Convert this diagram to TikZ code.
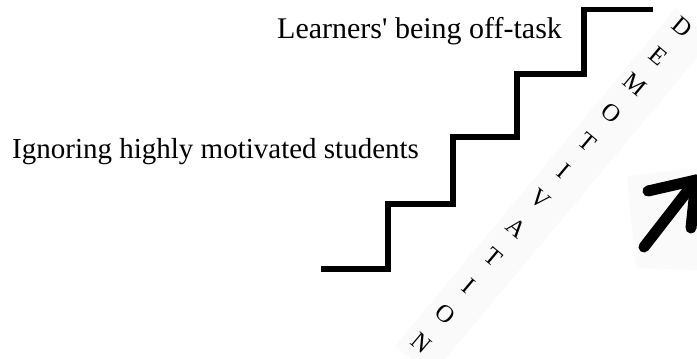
\documentclass[tikz,border=0pt]{standalone}
\usepackage{fontspec}
\setmainfont{Liberation Serif}
\tikzset{
  stair/.style={line width=5.4pt, line join=miter, line cap=butt},
  label/.style={inner sep=0pt, anchor=base west},
  letter/.style={inner sep=0pt, font=\fontsize{24.5}{24.5}\selectfont, rotate=-40},
  bigarrow/.style={line width=11pt, line cap=round, line join=round},
  faint/.style={fill=black!2, draw=none}
}
\begin{document}
\begin{tikzpicture}[x=1pt,y=-1pt]
\useasboundingbox (0,0) rectangle (697,359);
% faint backgrounds
\fill[faint] (712,40) -- (676,8) -- (395,346) -- (431,376) -- cycle;
\fill[faint] (627,176) -- (697,168) -- (697,270) -- (636,268) -- cycle;
% staircase
\coordinate (s0) at (321,269);
\coordinate (s1) at (388,269);
\coordinate (s2) at (388,204);
\coordinate (s3) at (453,204);
\coordinate (s4) at (453,137);
\coordinate (s5) at (517,137);
\coordinate (s6) at (517,74);
\coordinate (s7) at (584,74);
\coordinate (s8) at (584,9.5);
\coordinate (s9) at (653,9.5);
\draw[stair] (s0) -- (s1) -- (s2) -- (s3) -- (s4) -- (s5) -- (s6) -- (s7) -- (s8) -- (s9);
% labels
\node[label, font=\fontsize{29}{29}\selectfont] (ign) at (12,158.3) {Ignoring highly motivated students};
\node[label, font=\fontsize{30}{30}\selectfont] (lrn) at (277,38.3) {Learners\textquotesingle{} being off-task};
% DEMOTIVATION
\foreach \ch [count=\i from 0] in {D,E,M,O,T,I,V,A,T,I,O,N}
  \node[letter] (l\i) at ({682.5-23.7*\i},{27+28.73*\i}) {\ch};
% arrow
\coordinate (atail) at (644,247);
\coordinate (ahead) at (696,180);
\coordinate (abarb1) at (648,191);
\coordinate (abarb2) at (691,228);
\draw[bigarrow] (atail) -- (ahead);
\draw[bigarrow] (abarb1) -- (ahead) -- (abarb2);
\end{tikzpicture}
\end{document}
